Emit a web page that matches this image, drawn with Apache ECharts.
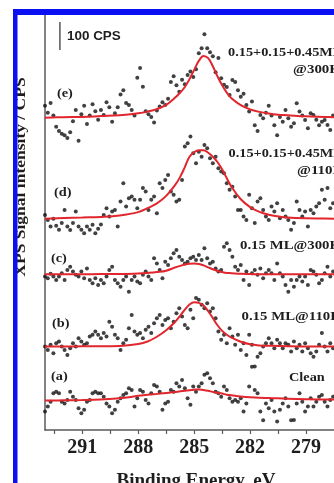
<!DOCTYPE html>
<html>
<head>
<meta charset="utf-8">
<script src="https://cdn.jsdelivr.net/npm/echarts@6/dist/echarts.min.js"></script>
<style>
html,body{margin:0;padding:0;background:#fff;}
#chart{width:334px;height:483px;}
</style>
</head>
<body>
<div id="chart"></div>
<script>
// measurement grid (binding energy, eV), high -> low
var eStart = 293.0, eStep = 0.15;

// raw points, CPS above each spectrum's own baseline
var specA = [-39,-21,-4,26,32, 26,-4,-10,2,32, 14,2,-27,-45,-33, -4,2,26,32,26,
    26,14,-10,-21,-45, -33,-4,8,20,26, 44,38,-21,8,38, 32,2,-10,26,56,
    50,32,-33,-10,-4, 38,32,62,50,74, 44,8,-15,50,32, 50,62,92,98,80,
    62,32,26,14,50, 38,8,-4,2,-4, 8,-39,-10,50,121, 38,26,-39,-70,-10,
    -27,2,-39,-75,-33, -10,8,-21,-70,-69, -10,26,-4,-39,-21, 8,-21,-4,14,20,
    -4,-21,2,14];
var specB = [0,-12,6,-24,12, 18,0,-12,-30,-6, 12,0,30,18,6, 12,36,42,54,42,
    30,48,36,89,71, 42,30,-12,12,24, 65,113,54,42,48, 30,60,71,48,83,
    101,113,77,95,101, 65,89,119,137,107, 77,65,131,101,173, 167,149,137,155,125,
    137,101,54,24,42, 12,65,36,6,42, -12,12,-30,42,6, -71,-36,-24,0,12,
    30,12,-6,24,12, -6,12,6,-18,18, -6,6,-18,12,-6, -24,-36,-18,6,48,
    0,-18,12,-6];
var specC = [-8,-14,2,-8,-20, -8,4,-20,15,27, 10,-2,-8,10,-14, 21,-20,-32,-14,-38,
    -20,-32,-8,15,27, -20,-32,-44,-20,-8, -62,-20,-8,-26,-32, -2,10,-8,-20,57,
    39,15,-14,45,33, 57,75,87,63,51, 39,45,57,63,51, 69,51,93,57,39,
    45,21,10,15,98, 111,87,63,27,15, 33,-20,10,-38,4, 15,-2,21,-14,4,
    15,4,-20,39,4, -8,-38,-62,-20,-44, -20,-8,-26,-8,-38, 15,10,-2,-32,-20,
    4,27,-8,10];
var specD = [14,-4,-27,0,-25, -39,-15,32,-27,-40, -15,26,-27,-39,-51, -27,-39,-21,-51,-35,
    -20,14,38,8,26, 32,-27,62,127,44, 74,80,68,38,68, 110,98,32,68,80,
    20,127,110,139,157, 98,86,62,68,139, 258,270,294,234,199, 240,222,264,252,216,
    199,222,181,169,163, 127,104,115,80,32, 32,8,-4,86,38, -15,62,74,32,8,
    -4,44,26,56,2, 32,8,-4,-39,-15, 62,32,8,26,-27, 32,20,44,56,104,
    68,110,38,56];
var specE = [45,20,55,10,-30, -45,-55,-60,-70,-50, -10,30,-80,15,45, -20,10,50,25,-5,
    30,12,57,40,-12, 18,40,85,100,55, 48,30,10,145,180, 113,25,15,5,-15,
    28,42,57,48,70, 130,150,118,95,138, 122,155,167,148,175, 232,250,300,250,236,
    222,165,215,143,120, 112,83,137,130,100, 77,88,48,24,60, -25,-45,12,0,20,
    45,10,-25,-60,5, -12,30,0,-30,-18, 54,24,10,-6,-35, 18,12,-5,-25,-12,
    -6,-24,-42,10];

// fitted curves, same units
var fitE = [293,292,291,290,289,288,287.5,287,286.5,286,285.75,285.5,285.25,285,284.75,
    284.5,284.25,284,283.75,283.5,283.25,283,282.5,282,281.5,281,280.5,280,279,278,277.5];
var fitA = [0,1,2,4,8,17,21,24,27,31,33,35,37,39,40,38,35,31,28,25,21,19,15,12,10,9,8,7,5,4,4];
var fitB = [0,0,1,1,2,9,18,35,58,90,110,132,150,158,156,147,126,102,76,56,42,32,17,8,4,3,2,1,0,0,0];
var fitC = [0,0,0,1,1,3,5,8,13,25,30,35,38,39,37,32,25,18,12,8,5,4,2,1,0,0,0,0,0,0,0];
var fitD = [0,3,5,7,12,24,38,55,82,123,150,185,222,238,245,245,236,222,203,177,145,115,70,42,25,15,9,5,2,1,0];
var fitEe = [2,4,5,8,11,18,24,33,48,75,92,112,140,173,205,223,215,186,150,118,92,72,47,32,23,17,13,11,7,5,4];

// vertical stacking offsets (CPS) for (a)..(e)
var offsets = [105, 298, 556, 754, 1113];
var panels = ['(a)', '(b)', '(c)', '(d)', '(e)'];

// 100 CPS scale bar
var scaleBarE = 292.2;
var scaleBarCps = [1357, 1457];

var tickLabels = [279, 282, 285, 288, 291];

var specs = [specA, specB, specC, specD, specE];
var fits = [fitA, fitB, fitC, fitD, fitEe];

var SERIF = '"Liberation Serif", "Times New Roman", serif';
var TXT = '#1e1e1e';
var BLUE = '#0b10f3';

var series = [];
specs.forEach(function(s, k){
    series.push({
        type: 'scatter',
        symbolSize: 4,
        itemStyle: {color: '#111'},
        silent: true,
        z: 2,
        data: s.map(function(v, i){ return [eStart - i * eStep, offsets[k] + v]; })
    });
});
fits.forEach(function(f, k){
    series.push({
        type: 'line',
        smooth: 0.4,
        showSymbol: false,
        silent: true,
        z: 3,
        lineStyle: {color: '#e1262d', width: 2},
        data: f.map(function(v, i){ return [fitE[i], offsets[k] + v]; })
    });
});
series.push({
    type: 'line',
    showSymbol: false,
    silent: true,
    lineStyle: {color: '#555', width: 1.5},
    data: scaleBarCps.map(function(v){ return [scaleBarE, v]; })
});

function text(x, y, s, font, o){
    o = o || {};
    return {
        type: 'text', x: x, y: y, rotation: o.rot || 0,
        scaleX: o.sx || 1, scaleY: 1, z: 10, silent: true,
        style: {
            text: s, font: font, fill: TXT,
            align: o.align || 'left', verticalAlign: o.va || 'middle',
            textAlign: o.align || 'left', textVerticalAlign: o.va || 'middle'
        }
    };
}

var lblFont = 'bold 13px ' + SERIF;
var panelY = [377, 324, 259, 193, 94];
var panelX = [51, 52, 51, 54, 57];

var graphic = [
    {type: 'rect', shape: {x: 13, y: 9, width: 330, height: 6}, style: {fill: BLUE}, z: 20, silent: true},
    {type: 'rect', shape: {x: 13, y: 9, width: 4.5, height: 480}, style: {fill: BLUE}, z: 20, silent: true},
    text(21.5, 177, 'XPS Signal intensity / CPS', 'bold 14px ' + SERIF, {rot: Math.PI / 2, align: 'center', sx: 1.25}),
    text(196, 472, 'Binding Energy, eV', 'bold 19px ' + SERIF, {align: 'center', va: 'top'}),
    text(67, 37, '100 CPS', 'bold 12px "Liberation Sans", Arial, sans-serif', {sx: 1.12}),
    text(228, 53, '0.15+0.15+0.45ML', lblFont, {sx: 1.1}),
    text(293, 70, '@300K', lblFont, {sx: 1.15}),
    text(228.5, 154, '0.15+0.15+0.45ML', lblFont, {sx: 1.1}),
    text(297, 171, '@110K', lblFont, {sx: 1.15}),
    text(240, 246, '0.15 ML@300K', lblFont, {sx: 1.14}),
    text(241.5, 317, '0.15 ML@110K', lblFont, {sx: 1.14}),
    text(289, 377.5, 'Clean', lblFont, {sx: 1.1})
];
panels.forEach(function(p, k){
    graphic.push(text(panelX[k], panelY[k], p, lblFont, {sx: 1.1}));
});

var myChart = echarts.init(document.getElementById('chart'));
var option = {
    backgroundColor: '#fff',
    animation: false,
    grid: {left: 45, top: 15, right: -2, bottom: 53},
    xAxis: {
        type: 'value',
        inverse: true,
        min: 277.5,
        max: 293,
        interval: 1.5,
        axisLine: {lineStyle: {color: '#5a5a5a', width: 1.5}},
        axisTick: {length: 4, lineStyle: {color: '#5a5a5a', width: 1.2}},
        splitLine: {show: false},
        axisLabel: {
            margin: 8,
            fontFamily: SERIF,
            fontWeight: 'bold',
            fontSize: 20,
            color: TXT,
            showMinLabel: false,
            showMaxLabel: false,
            formatter: function(v){
                return tickLabels.indexOf(Math.round(v * 10) / 10) >= 0 ? String(v) : '';
            }
        }
    },
    yAxis: {
        type: 'value',
        min: 0,
        max: 1482,
        axisLine: {show: true, lineStyle: {color: '#5a5a5a', width: 1.5}},
        axisTick: {show: false},
        axisLabel: {show: false},
        splitLine: {show: false}
    },
    graphic: graphic,
    series: series
};
myChart.setOption(option);
</script>
</body>
</html>
